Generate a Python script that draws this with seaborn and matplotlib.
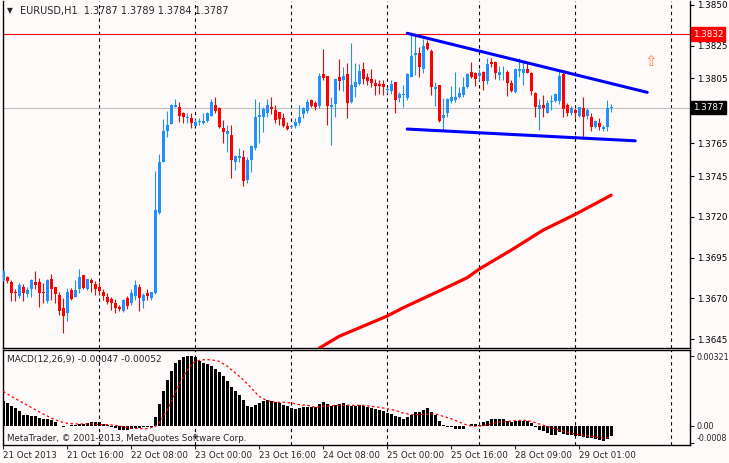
import numpy as np
import pandas as pd
import matplotlib
matplotlib.use("Agg")
import matplotlib.pyplot as plt
import matplotlib.transforms as mtransforms
import seaborn as sns

sns.set_style("white")
plt.rcParams['font.family'] = ['DejaVu Sans']

# EURUSD H1 candles, bar 0 = 21 Oct 2013 00:00
open_ = [1.36812, 1.36833, 1.36802, 1.36741, 1.36716, 1.36767, 1.36727, 1.36755, 1.36802, 1.36802,
         1.36739, 1.36686, 1.36816, 1.36767, 1.36721, 1.36639, 1.36608, 1.36751, 1.36706, 1.36755,
         1.36843, 1.36755, 1.36812, 1.36788, 1.36767, 1.36741, 1.36710, 1.36694, 1.36674, 1.36649,
         1.36625, 1.36700, 1.36670, 1.36714, 1.36767, 1.36686, 1.36735, 1.36704, 1.36733, 1.37222,
         1.37538, 1.37728, 1.37769, 1.37871, 1.37871, 1.37838, 1.37804, 1.37803, 1.37759, 1.37783,
         1.37773, 1.37789, 1.37820, 1.37885, 1.37869, 1.37746, 1.37708, 1.37701, 1.37538, 1.37563,
         1.37569, 1.37426, 1.37548, 1.37620, 1.37814, 1.37810, 1.37838, 1.37875, 1.37854, 1.37842,
         1.37803, 1.37759, 1.37752, 1.37759, 1.37773, 1.37830, 1.37850, 1.37917, 1.37900, 1.37880,
         1.38076, 1.38063, 1.37872, 1.37892, 1.38055, 1.38039, 1.38076, 1.37906, 1.37994, 1.38015,
         1.38106, 1.38055, 1.38043, 1.38019, 1.38015, 1.38015, 1.37978, 1.37974, 1.38025, 1.37931,
         1.37947, 1.37927, 1.38059, 1.38192, 1.38202, 1.38104, 1.38263, 1.38219, 1.37982, 1.38008,
         1.37804, 1.37835, 1.37913, 1.37917, 1.37937, 1.37947, 1.37994, 1.38086, 1.38080, 1.38063,
         1.38090, 1.38035, 1.38151, 1.38151, 1.38070, 1.38080, 1.38090, 1.38019, 1.37968, 1.38096,
         1.38084, 1.38104, 1.38080, 1.37961, 1.37859, 1.37886, 1.37839, 1.37902, 1.37913, 1.37913,
         1.38076, 1.37886, 1.37839, 1.37855, 1.37819, 1.37866, 1.37819, 1.37815, 1.37749, 1.37778,
         1.37737, 1.37753, 1.37870]
high = [1.36874, 1.36837, 1.36812, 1.36755, 1.36792, 1.36788, 1.36772, 1.36816, 1.36867, 1.36823,
        1.36792, 1.36821, 1.36849, 1.36772, 1.36741, 1.36700, 1.36761, 1.36761, 1.36812, 1.36880,
        1.36845, 1.36820, 1.36823, 1.36808, 1.36802, 1.36755, 1.36731, 1.36710, 1.36694, 1.36659,
        1.36694, 1.36714, 1.36755, 1.36812, 1.36786, 1.36731, 1.36755, 1.36741, 1.37481, 1.37585,
        1.37800, 1.37850, 1.37890, 1.37920, 1.37901, 1.37844, 1.37834, 1.37834, 1.37797, 1.37803,
        1.37834, 1.37844, 1.37922, 1.37936, 1.37875, 1.37793, 1.37763, 1.37763, 1.37579, 1.37620,
        1.37610, 1.37569, 1.37640, 1.37922, 1.37905, 1.37875, 1.37922, 1.37936, 1.37885, 1.37844,
        1.37834, 1.37783, 1.37763, 1.37803, 1.37885, 1.37875, 1.37922, 1.37921, 1.37913, 1.38084,
        1.38229, 1.38066, 1.37937, 1.38049, 1.38165, 1.38121, 1.38141, 1.38263, 1.38141, 1.38135,
        1.38147, 1.38080, 1.38104, 1.38043, 1.38039, 1.38039, 1.37998, 1.38039, 1.38029, 1.37968,
        1.38008, 1.38084, 1.38325, 1.38308, 1.38239, 1.38288, 1.38284, 1.38227, 1.38029, 1.38010,
        1.37927, 1.37927, 1.38000, 1.38090, 1.37998, 1.38059, 1.38080, 1.38151, 1.38090, 1.38104,
        1.38096, 1.38172, 1.38172, 1.38155, 1.38125, 1.38125, 1.38100, 1.38039, 1.38110, 1.38172,
        1.38151, 1.38145, 1.38090, 1.37968, 1.37921, 1.37947, 1.37917, 1.37947, 1.37957, 1.38100,
        1.38100, 1.37896, 1.37880, 1.37866, 1.37876, 1.37937, 1.37866, 1.37835, 1.37794, 1.37804,
        1.37763, 1.37917, 1.37890]
low = [1.36808, 1.36792, 1.36686, 1.36686, 1.36704, 1.36686, 1.36706, 1.36706, 1.36755, 1.36645,
       1.36674, 1.36670, 1.36690, 1.36670, 1.36598, 1.36486, 1.36561, 1.36690, 1.36706, 1.36731,
       1.36755, 1.36751, 1.36741, 1.36721, 1.36721, 1.36690, 1.36666, 1.36629, 1.36608, 1.36623,
       1.36619, 1.36633, 1.36659, 1.36690, 1.36625, 1.36639, 1.36690, 1.36690, 1.36729, 1.37218,
       1.37538, 1.37691, 1.37769, 1.37871, 1.37783, 1.37773, 1.37773, 1.37742, 1.37757, 1.37763,
       1.37769, 1.37783, 1.37818, 1.37834, 1.37742, 1.37650, 1.37599, 1.37436, 1.37487, 1.37538,
       1.37389, 1.37406, 1.37477, 1.37610, 1.37650, 1.37722, 1.37814, 1.37830, 1.37773, 1.37763,
       1.37752, 1.37732, 1.37746, 1.37742, 1.37763, 1.37803, 1.37834, 1.37872, 1.37855, 1.37866,
       1.38039, 1.37764, 1.37641, 1.37810, 1.37978, 1.37974, 1.37804, 1.37900, 1.37937, 1.38008,
       1.38015, 1.38008, 1.37998, 1.37947, 1.37953, 1.37947, 1.37957, 1.37953, 1.37835, 1.37906,
       1.37876, 1.37917, 1.38059, 1.38070, 1.38059, 1.38084, 1.38223, 1.37947, 1.37880, 1.37784,
       1.37733, 1.37815, 1.37900, 1.37906, 1.37927, 1.37937, 1.37988, 1.38049, 1.38002, 1.38039,
       1.37978, 1.38015, 1.38121, 1.38043, 1.38039, 1.38039, 1.37943, 1.37968, 1.37957, 1.38059,
       1.38008, 1.38084, 1.37947, 1.37815, 1.37733, 1.37811, 1.37835, 1.37855, 1.37906, 1.37892,
       1.37811, 1.37819, 1.37825, 1.37804, 1.37815, 1.37676, 1.37798, 1.37729, 1.37743, 1.37733,
       1.37729, 1.37729, 1.37840]
close = [1.36867, 1.36808, 1.36731, 1.36731, 1.36782, 1.36735, 1.36751, 1.36812, 1.36782, 1.36735,
         1.36731, 1.36812, 1.36755, 1.36727, 1.36625, 1.36594, 1.36741, 1.36696, 1.36751, 1.36833,
         1.36765, 1.36818, 1.36796, 1.36755, 1.36747, 1.36716, 1.36680, 1.36674, 1.36639, 1.36635,
         1.36690, 1.36655, 1.36735, 1.36782, 1.36700, 1.36721, 1.36716, 1.36737, 1.37243, 1.37538,
         1.37728, 1.37763, 1.37885, 1.37885, 1.37818, 1.37810, 1.37814, 1.37773, 1.37779, 1.37789,
         1.37789, 1.37834, 1.37905, 1.37850, 1.37752, 1.37722, 1.37728, 1.37548, 1.37573, 1.37573,
         1.37420, 1.37548, 1.37634, 1.37814, 1.37824, 1.37858, 1.37885, 1.37861, 1.37793, 1.37799,
         1.37759, 1.37738, 1.37759, 1.37783, 1.37814, 1.37865, 1.37905, 1.37880, 1.37872, 1.38063,
         1.38049, 1.37880, 1.37886, 1.38043, 1.38035, 1.38063, 1.37900, 1.38008, 1.38029, 1.38096,
         1.38043, 1.38035, 1.38023, 1.38004, 1.38004, 1.37994, 1.37984, 1.38015, 1.37917, 1.37953,
         1.37951, 1.38076, 1.38186, 1.38206, 1.38117, 1.38247, 1.38227, 1.37994, 1.37998, 1.37790,
         1.37825, 1.37921, 1.37937, 1.37937, 1.37961, 1.37998, 1.38076, 1.38059, 1.38043, 1.38080,
         1.38035, 1.38137, 1.38135, 1.38084, 1.38090, 1.38084, 1.38023, 1.37974, 1.38104, 1.38104,
         1.38104, 1.38084, 1.37974, 1.37872, 1.37886, 1.37866, 1.37900, 1.37913, 1.37953, 1.38066,
         1.37860, 1.37835, 1.37866, 1.37835, 1.37872, 1.37811, 1.37855, 1.37753, 1.37790, 1.37753,
         1.37753, 1.37866, 1.37870]

# moving average (thick red line), sampled bars
ma_bar = [79, 84, 90, 96, 100, 105, 110, 116, 119, 127, 135, 143, 152]
ma_val = [1.36395, 1.36468, 1.36530, 1.36592, 1.36643, 1.36700, 1.36757, 1.36827, 1.36880,
          1.36996, 1.37119, 1.37215, 1.37333]

# hand drawn trend lines (bar, price)
upper_line_bar = [101, 161]
upper_line_val = [1.38325, 1.37963]
lower_line_bar = [101, 158]
lower_line_val = [1.37738, 1.37666]

# MACD(12,26,9) histogram, one value per bar
macd = [0.00115, 0.00105, 0.00089, 0.00081, 0.00066, 0.00051, 0.00051, 0.00046, 0.00043, 0.00035,
        0.00031, 0.00032, 0.00025, 0.00017, -0.00003, -0.00006, -0.00003, 0.00002, 0.00005, 0.00008,
        0.00008, 0.00011, 0.00015, 0.00017, 0.00015, 0.00008, 0.00005, -0.00006, -0.00011, -0.00018,
        -0.00022, -0.00022, -0.00015, -0.00011, -0.00011, -0.00008, -0.00008, -0.00005, 0.00038, 0.00100,
        0.00161, 0.00212, 0.00254, 0.00289, 0.00304, 0.00315, 0.00321, 0.00321, 0.00315, 0.00300,
        0.00289, 0.00284, 0.00274, 0.00263, 0.00247, 0.00227, 0.00204, 0.00177, 0.00158, 0.00143,
        0.00117, 0.00089, 0.00085, 0.00094, 0.00105, 0.00115, 0.00120, 0.00115, 0.00109, 0.00105,
        0.00094, 0.00089, 0.00081, 0.00078, 0.00081, 0.00085, 0.00087, 0.00085, 0.00085, 0.00100,
        0.00109, 0.00100, 0.00089, 0.00094, 0.00100, 0.00105, 0.00094, 0.00092, 0.00092, 0.00094,
        0.00092, 0.00085, 0.00081, 0.00078, 0.00074, 0.00066, 0.00058, 0.00054, 0.00043, 0.00038,
        0.00031, 0.00040, 0.00051, 0.00063, 0.00063, 0.00074, 0.00081, 0.00063, 0.00048, 0.00023,
        0.00002, -0.00005, -0.00008, -0.00014, -0.00014, -0.00014, -0.00003, 0.00008, 0.00008, 0.00002,
        0.00017, 0.00023, 0.00032, 0.00032, 0.00032, 0.00032, 0.00020, 0.00017, 0.00020, 0.00023,
        0.00023, 0.00023, 0.00012, -0.00008, -0.00018, -0.00026, -0.00034, -0.00042, -0.00045, -0.00029,
        -0.00038, -0.00045, -0.00045, -0.00049, -0.00049, -0.00054, -0.00057, -0.00057, -0.00062, -0.00065,
        -0.00069, -0.00060, -0.00047]

# MACD signal line (dotted red), sampled bars
sig_bar = [0, 2, 4, 6, 8, 10, 12, 14, 16, 18, 20, 22, 24, 26, 28, 30, 32, 34, 36, 38,
           39, 40, 41, 42, 43, 44, 45, 46, 47, 48, 49, 50, 52, 54, 56, 58, 60, 62, 64, 66,
           68, 70, 72, 74, 76, 78, 80, 82, 84, 86, 88, 90, 92, 94, 96, 98, 100, 102, 104, 106,
           108, 110, 112, 114, 116, 118, 120, 122, 124, 126, 128, 130, 132, 134, 136, 138, 140,
           142, 144, 146, 148, 150, 152]
sig_val = [0.00158, 0.00135, 0.00115, 0.00094, 0.00074, 0.00054, 0.00035, 0.00020, 0.00011, 0.00008,
           0.00008, 0.00008, 0.00005, 0.00005, 0.00002, -0.00005, -0.00011, -0.00014, -0.00014, -0.00003,
           0.00012, 0.00043, 0.00074, 0.00109, 0.00151, 0.00189, 0.00227, 0.00254, 0.00281, 0.00297,
           0.00301, 0.00304, 0.00304, 0.00297, 0.00274, 0.00243, 0.00212, 0.00174, 0.00135, 0.00115,
           0.00108, 0.00108, 0.00105, 0.00097, 0.00094, 0.00085, 0.00089, 0.00092, 0.00094, 0.00094,
           0.00094, 0.00094, 0.00089, 0.00085, 0.00078, 0.00071, 0.00058, 0.00051, 0.00051, 0.00054,
           0.00055, 0.00043, 0.00032, 0.00017, 0.00002, -0.00003, 0.00000, 0.00008, 0.00017, 0.00020,
           0.00023, 0.00025, 0.00020, 0.00008, -0.00003, -0.00014, -0.00026, -0.00034, -0.00042,
           -0.00046, -0.00051, -0.00057, -0.00052]

# time axis
tick_bar = [0, 16, 32, 48, 64, 80, 96, 112, 128, 144]
tick_text = ['21 Oct 2013', '21 Oct 16:00', '22 Oct 08:00', '23 Oct 00:00', '23 Oct 16:00',
             '24 Oct 08:00', '25 Oct 00:00', '25 Oct 16:00', '28 Oct 09:00', '29 Oct 01:00']
day_sep_bar = [24, 48, 72, 96, 119, 143, 167]

price_ticks = [1.3850, 1.3825, 1.3805, 1.3785, 1.3765, 1.3745, 1.3720, 1.3695, 1.3670, 1.3645]
macd_ticks = [0.00321, 0.0, -0.0008]
level_price = 1.3832
bid_price = 1.3787

bg = '#FFFAFA'
bull = '#1E90FF'
bear = '#FF0000'

df = pd.DataFrame({'open': open_, 'high': high, 'low': low, 'close': close})
df['bar'] = np.arange(len(df))
df['up'] = df['close'] >= df['open']

fig = plt.figure(figsize=(7.29, 4.63), dpi=100, facecolor=bg)
ax = fig.add_axes([2.5 / 729, 1 - 348 / 463, 687.5 / 729, 347 / 463])
ax2 = fig.add_axes([2.5 / 729, 1 - 445 / 463, 687.5 / 729, 94.7 / 463])
for a in (ax, ax2):
    a.set_facecolor(bg)
    for s in a.spines.values():
        s.set_color('black')
        s.set_linewidth(1.0)
    a.set_xlim(-0.2, 171.7)
    for b in day_sep_bar:
        a.axvline(b, color='black', lw=0.8, ls=(0, (3, 3)), zorder=1)
ax.spines['top'].set_visible(False)

# candles
colors = np.where(df['up'], bull, bear)
ax.vlines(df['bar'], df['low'], df['high'], colors=colors, lw=0.8, zorder=3)
body = (df['close'] - df['open']).abs().clip(lower=0.00002)
bottom = df[['open', 'close']].min(axis=1)
ax.bar(df['bar'], body, bottom=bottom, width=0.75, color=colors, linewidth=0, zorder=4)

ax.axhline(level_price, color='red', lw=0.8, zorder=2)
ax.axhline(bid_price, color='#C0C0C0', lw=0.8, zorder=2)

sns.lineplot(x=ma_bar, y=ma_val, ax=ax, color='red', linewidth=2.3, zorder=5)
sns.lineplot(x=upper_line_bar, y=upper_line_val, ax=ax, color='#0000FF', linewidth=2.2, zorder=5)
sns.lineplot(x=lower_line_bar, y=lower_line_val, ax=ax, color='#0000FF', linewidth=2.2, zorder=5)

ax.text(162, 1.3815, '\u21e7', color='#FF7F3F', fontsize=11, ha='center', va='center', zorder=6)

ax.set_ylim(1.36396, 1.38523)
ax.set_xticks([])
ax.yaxis.tick_right()
ax.set_yticks(price_ticks)
# 1.3785 sits under the bid price box, so its text is left blank
ax.set_yticklabels(['' if p == 1.3785 else f'{p:.4f}' for p in price_ticks])
ax.tick_params(axis='y', direction='out', length=3, width=0.8, pad=2, labelsize=6.3,
               right=True, left=False, colors='black')
ax.set_xlabel('')
ax.set_ylabel('')

trans = mtransforms.blended_transform_factory(ax.transAxes, ax.transData)
ax.text(1.004, level_price, f'{level_price:.4f}', transform=trans, color='white', fontsize=6.3,
        va='center', ha='left', zorder=10, clip_on=False,
        bbox=dict(boxstyle='square,pad=0.25', fc='red', ec='red'))
ax.text(1.004, bid_price, f'{bid_price:.4f}', transform=trans, color='white', fontsize=6.3,
        va='center', ha='left', zorder=10, clip_on=False,
        bbox=dict(boxstyle='square,pad=0.25', fc='black', ec='black'))

ax.text(0.006, 0.972, '\u25bc', transform=ax.transAxes, fontsize=5.5, va='center', ha='left')
ax.text(0.025, 0.972, 'EURUSD,H1  1.3787 1.3789 1.3784 1.3787', transform=ax.transAxes,
        fontsize=7, va='center', ha='left')

# MACD panel
mdf = pd.DataFrame({'bar': np.arange(len(macd)), 'macd': macd})
sns.barplot(data=mdf, x='bar', y='macd', ax=ax2, native_scale=True, orient='x', color='black',
            width=0.75, linewidth=0, errorbar=None, saturation=1, zorder=3)
sns.lineplot(x=sig_bar, y=sig_val, ax=ax2, color='red', linewidth=0.9, linestyle=(0, (2, 2)), zorder=4)
ax2.set_xlim(-0.2, 171.7)
ax2.set_ylim(-0.00089, 0.003476)
ax2.yaxis.tick_right()
ax2.set_yticks(macd_ticks)
ax2.set_yticklabels(['0.00321', '0.00', '-0.0008'])
ax2.tick_params(axis='y', direction='out', length=3, width=0.8, pad=1.5, labelsize=5.8,
                right=True, left=False)
ax2.get_yticklabels()[2].set_va('bottom')
ax2.set_xticks(tick_bar)
ax2.set_xticklabels(tick_text, ha='left')
ax2.tick_params(axis='x', direction='out', length=3, width=0.8, pad=1.5, labelsize=6.3, bottom=True)
ax2.set_xlabel('')
ax2.set_ylabel('')
ax2.text(0.006, 0.90, 'MACD(12,26,9) -0.00047 -0.00052', transform=ax2.transAxes,
         fontsize=6.5, va='center', ha='left')
ax2.text(0.006, 0.07, 'MetaTrader, \u00a9 2001-2013, MetaQuotes Software Corp.', transform=ax2.transAxes,
         fontsize=6.3, va='center', ha='left')

fig.savefig('out.png', dpi=100, facecolor=bg)
